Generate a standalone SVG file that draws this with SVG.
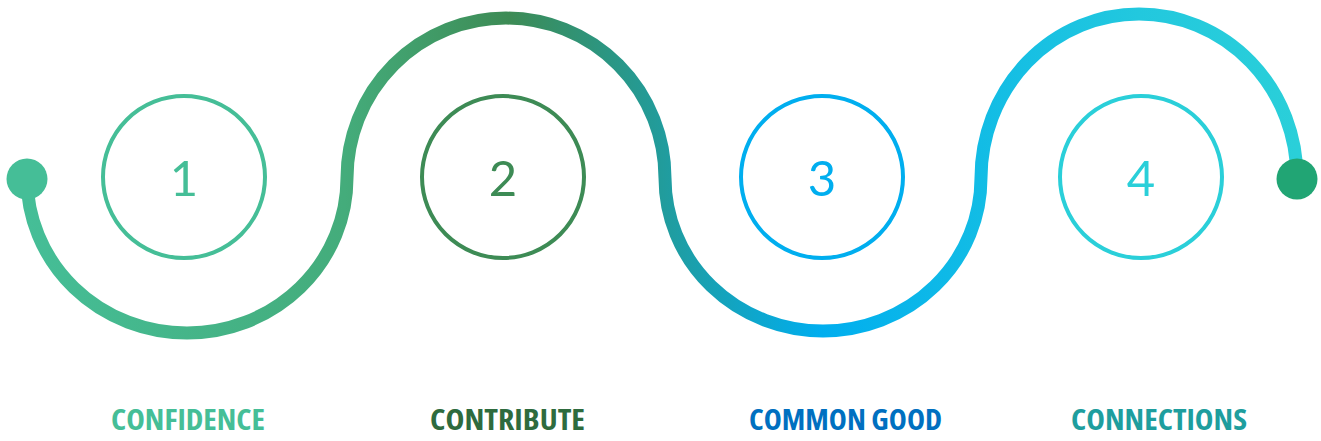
<svg xmlns="http://www.w3.org/2000/svg" width="1321" height="441" viewBox="0 0 1321 441">
  <defs>
    <linearGradient id="waveGrad" gradientUnits="userSpaceOnUse" x1="27" y1="0" x2="1297" y2="0">
      <stop offset="0" stop-color="#45BE97"/>
      <stop offset="0.25" stop-color="#44AC7B"/>
      <stop offset="0.38" stop-color="#3D8B55"/>
      <stop offset="0.5" stop-color="#219C9C"/>
      <stop offset="0.625" stop-color="#00AEEF"/>
      <stop offset="0.75" stop-color="#12BCE5"/>
      <stop offset="0.875" stop-color="#22C8DE"/>
      <stop offset="1" stop-color="#2ACFD9"/>
    </linearGradient>
    <style>
      .ring { fill: none; stroke-width: 4; }
      .num { font-family: Lato, "Noto Sans", sans-serif; font-weight: 400; font-size: 49px; text-anchor: middle; }
      .label { font-family: "Open Sans", "Liberation Sans", sans-serif; font-weight: 700; font-size: 29px; font-stretch: condensed; }
    </style>
  </defs>

  <!-- winding connector with its end dots -->
  <g id="connectors">
    <path d="M27,178 A160,155 0 0 0 347,178 A159,160 0 0 1 665,178 A158,153 0 0 0 981,178 A158,164 0 0 1 1297,178"
          fill="none" stroke="url(#waveGrad)" stroke-width="13"/>
    <circle cx="27" cy="179" r="20.5" fill="#45BE97"/>
    <circle cx="1297" cy="179" r="20.5" fill="#21A574"/>
  </g>

  <g id="step1">
    <circle class="ring" cx="184" cy="177" r="81" stroke="#45BE97"/>
    <text class="num" x="184" y="196" fill="#45BE97">1</text>
    <text class="label" x="111" y="430" textLength="154" lengthAdjust="spacingAndGlyphs" fill="#45BE97">CONFIDENCE</text>
  </g>

  <g id="step2">
    <circle class="ring" cx="503" cy="177" r="81" stroke="#3D8B55"/>
    <text class="num" x="503" y="196" fill="#3D8B55">2</text>
    <text class="label" x="430" y="430" textLength="155" lengthAdjust="spacingAndGlyphs" fill="#2E6B3E">CONTRIBUTE</text>
  </g>

  <g id="step3">
    <circle class="ring" cx="822" cy="177" r="81" stroke="#00AEEF"/>
    <text class="num" x="822" y="196" fill="#00AEEF">3</text>
    <text class="label" x="749" y="430" textLength="193" lengthAdjust="spacingAndGlyphs" fill="#0070C0">COMMON GOOD</text>
  </g>

  <g id="step4">
    <circle class="ring" cx="1141" cy="177" r="81" stroke="#2ACFD9"/>
    <text class="num" x="1141" y="196" fill="#2ACFD9">4</text>
    <text class="label" x="1071" y="430" textLength="176" lengthAdjust="spacingAndGlyphs" fill="#1E9E9E">CONNECTIONS</text>
  </g>
</svg>
